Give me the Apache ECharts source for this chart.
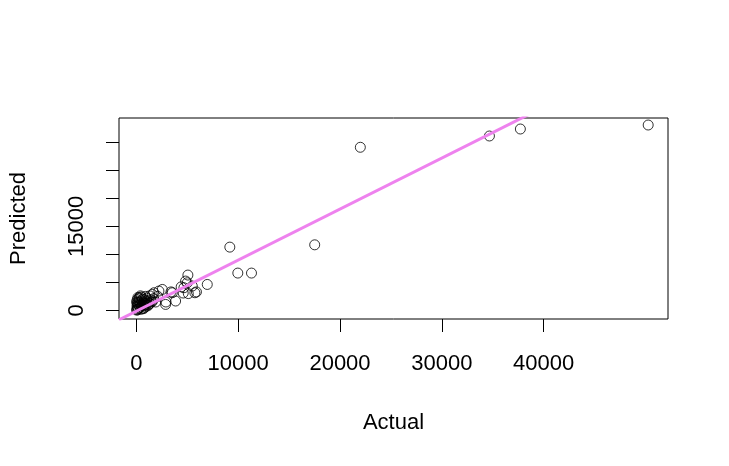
<!DOCTYPE html>
<html>
<head>
<meta charset="utf-8">
<script src="https://cdn.jsdelivr.net/npm/echarts@6/dist/echarts.min.js"></script>
<style>
html,body{margin:0;padding:0;background:#fff;}
#chart{width:729px;height:466px;}
</style>
</head>
<body>
<div id="chart"></div>
<script>
// Actual values (x)
const actual = [
  50, 100, 150, 200, 250, 300, 350, 400, 450, 500, 550, 600, 650, 700, 750, 800,
  850, 900, 950, 1000, 1100, 1200, 1300, 1400, 1500, 1600, 20, 80, 30, 120, 180,
  250, 600, 1000, 1200, 700, 300, 60, 400, 900, 1300, 150, 500, 1700, 1900, 800,
  1569, 1726, 2216, 2550, 2873, 3531, 3854, 4668, 4835, 5002, 5492, 5747, 5060,
  6963, 2100, 2900, 3400, 4600, 5100, 5900, 4400, 400, 100,
  9179, 9964, 11307, 17515, 21997, 34677, 37716, 50270
];
// Predicted values (y)
const predicted = [
  200, 600, 1100, 300, 900, 1500, 500, 1200, 200, 800, 1700, 1000, 400, 1400, 900, 1900,
  600, 1300, 1000, 1700, 800, 1400, 1200, 1900, 1500, 1700, 1500, 1900, 50, 100, 1500,
  2100, 2000, 2200, 1000, 300, 2300, 800, 2600, 2500, 2600, 2300, 2400, 2100, 1500, 1200,
  2850, 3152, 3455, 3740, 1069, 3152, 1674, 4043, 5236, 4933, 4346, 3152, 6305,
  4631, 2500, 1500, 3300, 3100, 3000, 3300, 4200, 1000, 1300,
  11291, 6661, 6661, 11701, 29102, 31114, 32361, 33073
];
// fitted regression line: predicted = intercept + slope * actual
const fitIntercept = [-123];
const fitSlope = [0.910];
// axis ranges and ticks
const xRange = [-1706, 52216];
const yRange = [-1532, 34325];
const xTicks = [0, 10000, 20000, 30000, 40000];
const yTicks = [0, 5000, 10000, 15000, 20000, 25000, 30000];
const yLabels = [0, 15000];

const points = actual.map((x, i) => [x, predicted[i]]);
const fitLine = xRange.map(x => [x, fitIntercept[0] + fitSlope[0] * x]);

const chart = echarts.init(document.getElementById('chart'), null, {renderer: 'canvas'});
const font = 'Liberation Sans, Arial, Helvetica, sans-serif';
const plain = v => String(v);
chart.setOption({
  animation: false,
  backgroundColor: '#ffffff',
  grid: {
    left: 118, right: 61, top: 118, bottom: 147,
    show: true, borderColor: '#000', borderWidth: 1, backgroundColor: 'transparent',
    containLabel: false
  },
  xAxis: {
    type: 'value', min: xRange[0], max: xRange[1],
    name: 'Actual', nameLocation: 'middle', nameGap: 93,
    nameTextStyle: {fontFamily: font, fontSize: 22, color: '#000'},
    axisLine: {show: false, onZero: false},
    axisTick: {show: true, length: 13, inside: false, customValues: xTicks, lineStyle: {color: '#000', width: 1}},
    axisLabel: {show: true, customValues: xTicks, formatter: plain, margin: 34, fontFamily: font, fontSize: 22, color: '#000'},
    splitLine: {show: false}
  },
  yAxis: {
    type: 'value', min: yRange[0], max: yRange[1],
    name: 'Predicted', nameLocation: 'middle', nameGap: 89, nameRotate: 90,
    nameTextStyle: {fontFamily: font, fontSize: 22, color: '#000'},
    axisLine: {show: false, onZero: false},
    axisTick: {show: true, length: 13, inside: false, customValues: yTicks, lineStyle: {color: '#000', width: 1}},
    axisLabel: {show: true, customValues: yLabels, formatter: plain, rotate: 90, margin: 31, fontFamily: font, fontSize: 22, color: '#000'},
    splitLine: {show: false}
  },
  series: [
    {
      type: 'scatter', data: points, symbol: 'circle', symbolSize: 10,
      itemStyle: {color: 'rgba(0,0,0,0)', borderColor: '#000', borderWidth: 1},
      z: 2
    },
    {
      type: 'line', data: fitLine, showSymbol: false, symbol: 'none', clip: true,
      lineStyle: {color: '#EE82EE', width: 3},
      z: 3
    }
  ]
});
</script>
</body>
</html>
